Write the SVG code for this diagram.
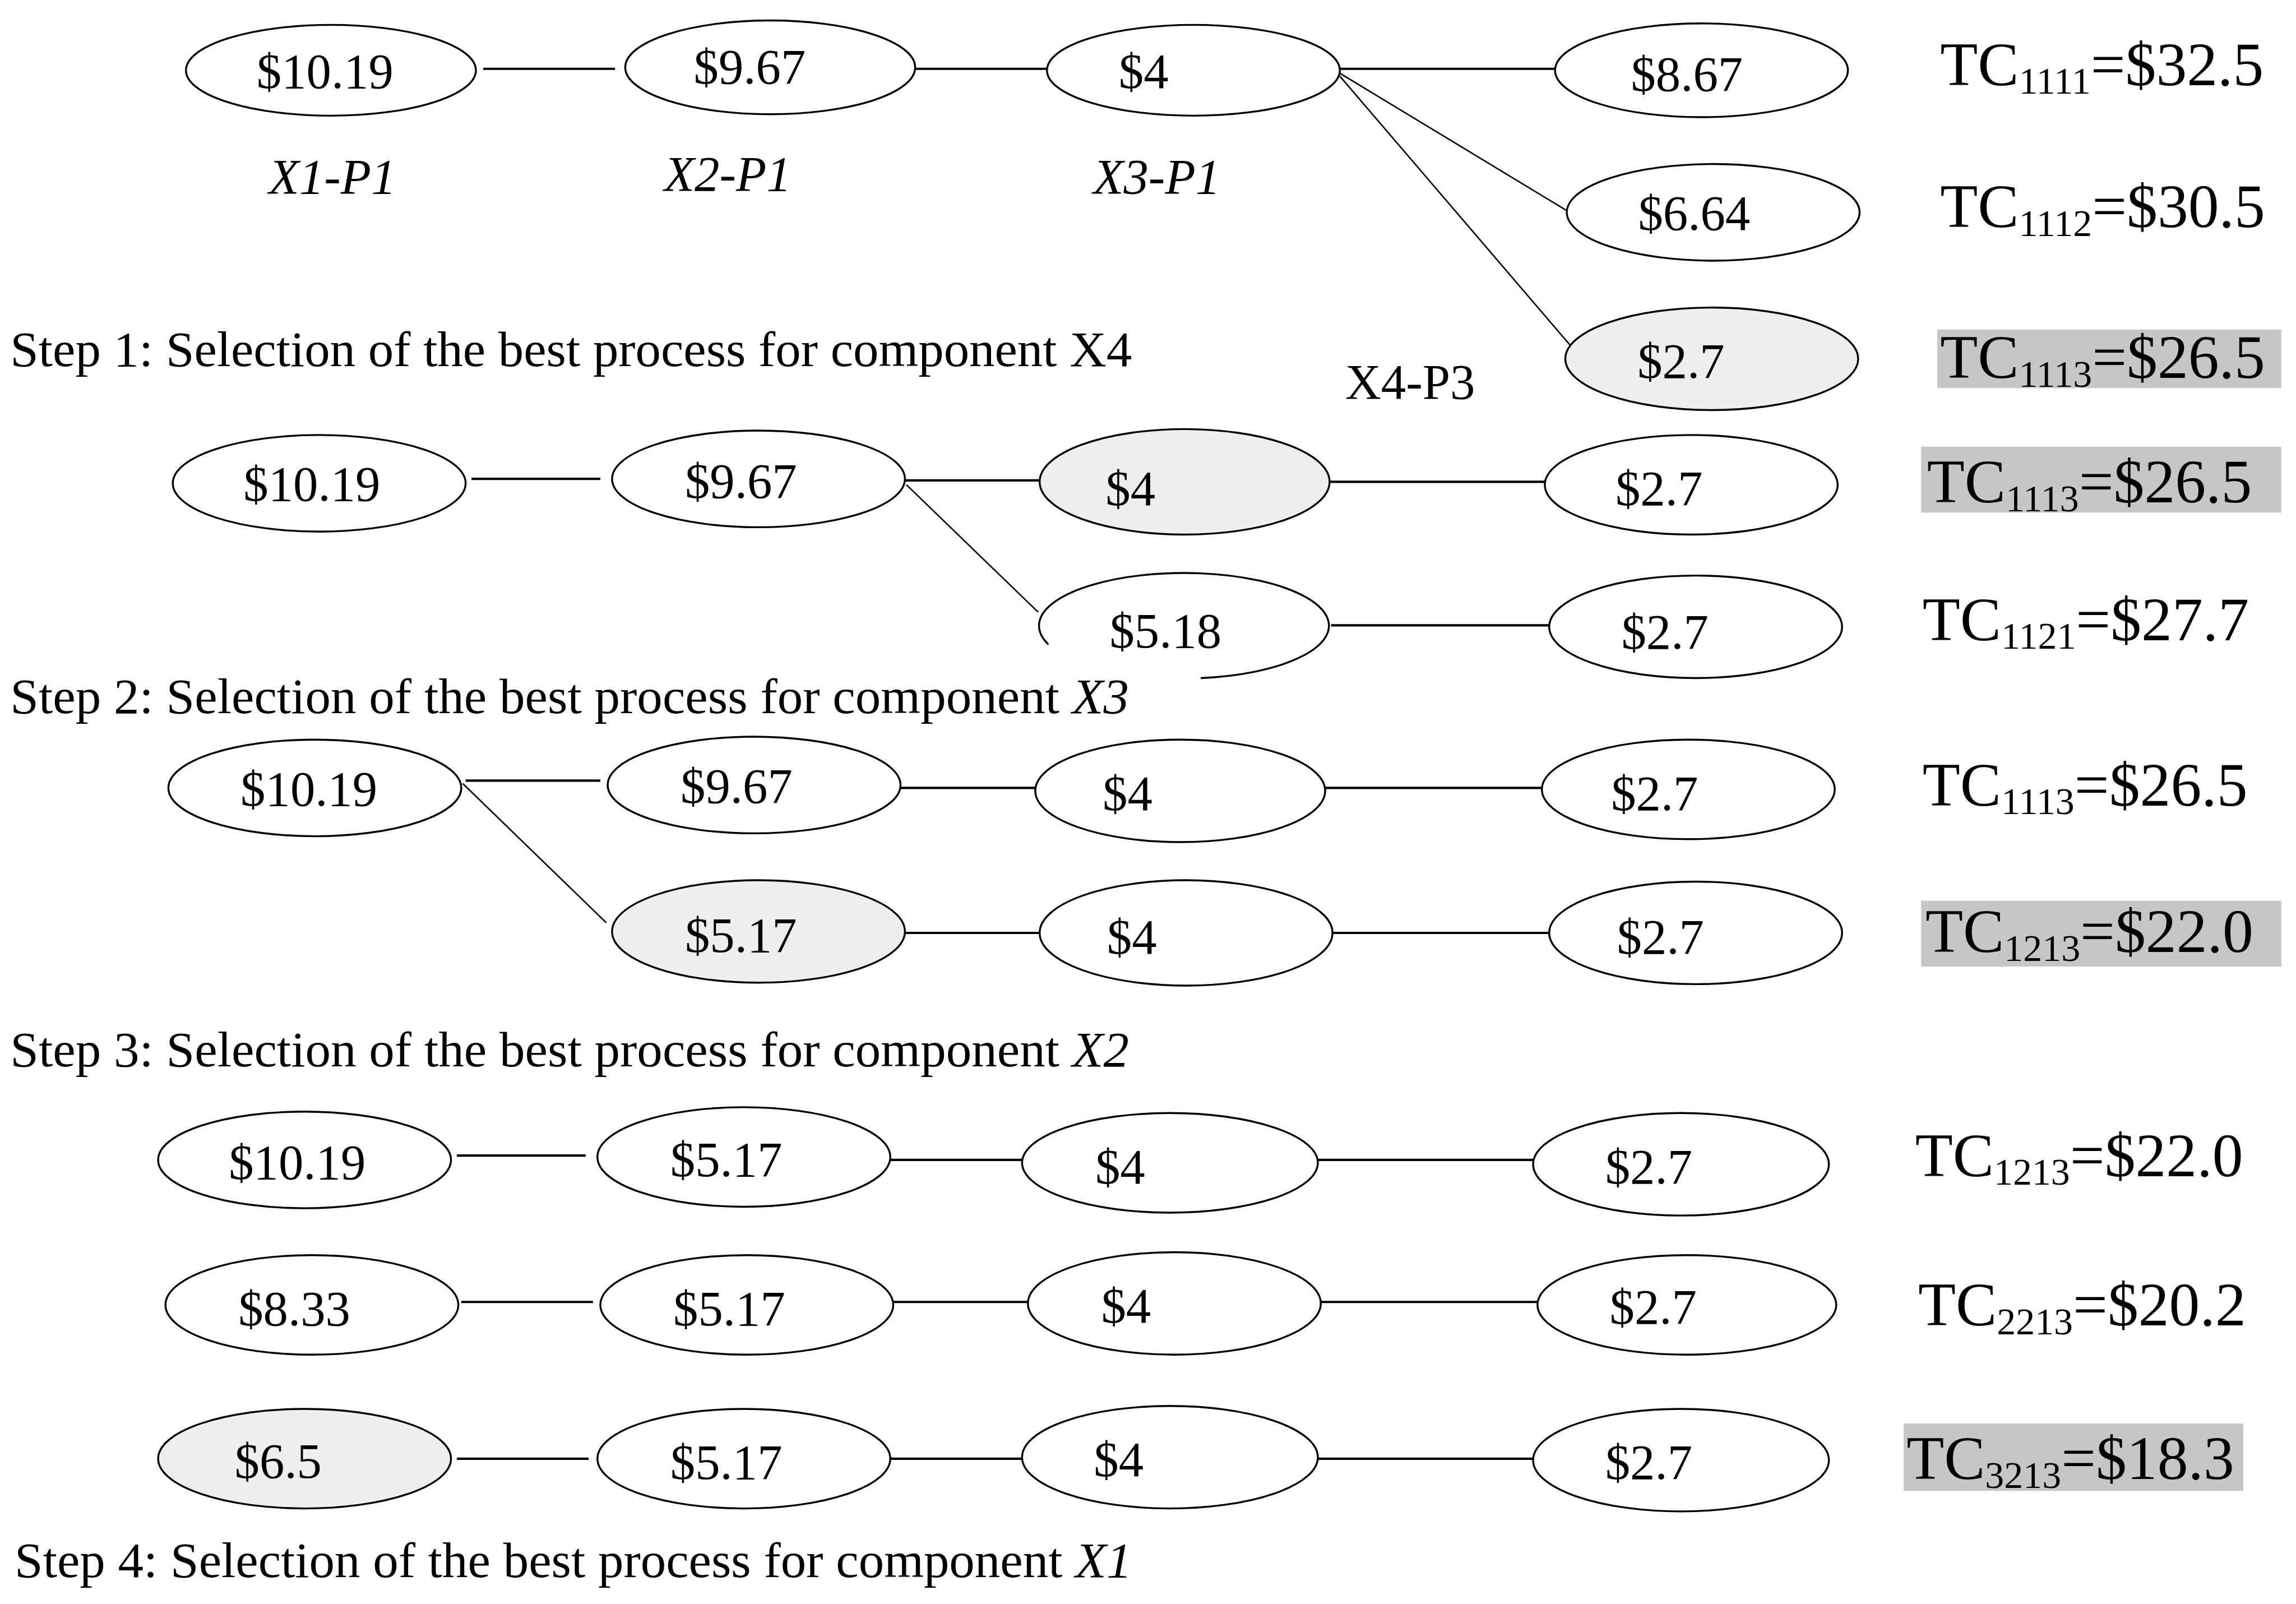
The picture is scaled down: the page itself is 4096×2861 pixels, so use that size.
<svg xmlns="http://www.w3.org/2000/svg" width="4096" height="2861" viewBox="0 0 4096 2861">
<style>
.n{fill:#fff;stroke:#000;stroke-width:1.3}
.g{fill:#eeeeee;stroke:#000;stroke-width:1.3}
.c{stroke:#000;stroke-width:1.6;fill:none}
.d{stroke:#000;stroke-width:1;fill:none}
.t{font-family:"Liberation Serif","Times New Roman",serif;font-size:34px;fill:#000}
.m{text-anchor:middle}
.i{font-style:italic}
.tc{font-family:"Liberation Serif","Times New Roman",serif;font-size:42px;fill:#000}
.s{font-size:26px}
.hl{fill:#c6c6c6}
</style>
<rect width="4096" height="2861" fill="#fff"/>
<g transform="scale(2.61224)">
<g id="connectors">
<line class="c" x1="330" y1="47" x2="420" y2="47"/>
<line class="c" x1="625" y1="47" x2="715" y2="47"/>
<line class="c" x1="915" y1="47" x2="1062" y2="47"/>
<line class="d" x1="915" y1="50" x2="1072" y2="145"/>
<line class="d" x1="915" y1="52" x2="1076" y2="240"/>
<line class="c" x1="322" y1="327" x2="410" y2="327"/>
<line class="c" x1="618" y1="328" x2="710" y2="328"/>
<line class="c" x1="908" y1="329" x2="1055" y2="329"/>
<line class="d" x1="619" y1="331" x2="709" y2="418"/>
<line class="c" x1="909" y1="427" x2="1058" y2="427"/>
<line class="c" x1="318" y1="533" x2="410" y2="533"/>
<line class="c" x1="615" y1="538" x2="707" y2="538"/>
<line class="c" x1="905" y1="538" x2="1053" y2="538"/>
<line class="d" x1="316" y1="535" x2="414" y2="630"/>
<line class="c" x1="618" y1="637" x2="710" y2="637"/>
<line class="c" x1="910" y1="637" x2="1058" y2="637"/>
<line class="c" x1="312" y1="789" x2="400" y2="789"/>
<line class="c" x1="608" y1="792" x2="698" y2="792"/>
<line class="c" x1="900" y1="792" x2="1047" y2="792"/>
<line class="c" x1="315" y1="889" x2="405" y2="889"/>
<line class="c" x1="610" y1="889" x2="702" y2="889"/>
<line class="c" x1="902" y1="889" x2="1050" y2="889"/>
<line class="c" x1="312" y1="996" x2="402" y2="996"/>
<line class="c" x1="608" y1="996" x2="698" y2="996"/>
<line class="c" x1="900" y1="996" x2="1047" y2="996"/>
</g>
<!-- Row 1 -->
<g id="r1n1"><ellipse class="n" cx="226" cy="48" rx="99" ry="31"/><text class="t m" x="222" y="60">$10.19</text></g>
<g id="r1n2"><ellipse class="n" cx="526" cy="46" rx="99" ry="32"/><text class="t m" x="512" y="57">$9.67</text></g>
<g id="r1n3"><ellipse class="n" cx="815" cy="48" rx="100" ry="31"/><text class="t m" x="781" y="60">$4</text></g>
<g id="r1n4"><ellipse class="n" cx="1162" cy="48" rx="100" ry="32"/><text class="t m" x="1152" y="62">$8.67</text></g>
<g id="r1n5"><ellipse class="n" cx="1170" cy="145" rx="100" ry="33"/><text class="t m" x="1157" y="157">$6.64</text></g>
<g id="r1n6"><ellipse class="g" cx="1169" cy="245" rx="100" ry="35"/><text class="t m" x="1148" y="258">$2.7</text></g>
<g id="lab1"><text class="t m i" x="227" y="132">X1-P1</text></g>
<g id="lab2"><text class="t m i" x="497" y="130">X2-P1</text></g>
<g id="lab3"><text class="t m i" x="790" y="132">X3-P1</text></g>
<g id="lab4"><text class="t m" x="963" y="272">X4-P3</text></g>
<g id="tc1"><text class="tc" x="1325" y="58">TC<tspan class="s" dy="6">1111</tspan><tspan dy="-6">=$32.5</tspan></text></g>
<g id="tc2"><text class="tc" x="1325" y="155">TC<tspan class="s" dy="6">1112</tspan><tspan dy="-6">=$30.5</tspan></text></g>
<g id="tc3"><rect class="hl" x="1323" y="225" width="235" height="40"/><text class="tc" x="1325" y="258">TC<tspan class="s" dy="6">1113</tspan><tspan dy="-6">=$26.5</tspan></text></g>
<g id="step1"><text class="t" x="7" y="250" textLength="766" lengthAdjust="spacingAndGlyphs">Step 1: Selection of the best process for component X4</text></g>
<!-- Row 2 -->
<g id="r2n1"><ellipse class="n" cx="218" cy="330" rx="100" ry="33"/><text class="t m" x="213" y="342">$10.19</text></g>
<g id="r2n2"><ellipse class="n" cx="518" cy="327" rx="100" ry="33"/><text class="t m" x="506" y="340">$9.67</text></g>
<g id="r2n3"><ellipse class="g" cx="809" cy="329" rx="99" ry="36"/><text class="t m" x="772" y="345">$4</text></g>
<g id="r2n4"><ellipse class="n" cx="1155" cy="331" rx="100" ry="34"/><text class="t m" x="1133" y="345">$2.7</text></g>
<g id="r2n5"><path class="n" d="M 716 440 A 99 36 0 1 1 820 463" fill="none"/><text class="t m" x="796" y="442">$5.18</text></g>
<g id="r2n6"><ellipse class="n" cx="1158" cy="428" rx="100" ry="35"/><text class="t m" x="1137" y="443">$2.7</text></g>
<g id="tc4"><rect class="hl" x="1312" y="305" width="246" height="45"/><text class="tc" x="1316" y="343">TC<tspan class="s" dy="6">1113</tspan><tspan dy="-6">=$26.5</tspan></text></g>
<g id="tc5"><text class="tc" x="1313" y="437">TC<tspan class="s" dy="6">1121</tspan><tspan dy="-6">=$27.7</tspan></text></g>
<g id="step2"><text class="t" x="7" y="487" textLength="764" lengthAdjust="spacingAndGlyphs">Step 2: Selection of the best process for component <tspan class="i">X3</tspan></text></g>
<!-- Row 3 -->
<g id="r3n1"><ellipse class="n" cx="215" cy="538" rx="100" ry="33"/><text class="t m" x="211" y="550">$10.19</text></g>
<g id="r3n2"><ellipse class="n" cx="515" cy="536" rx="100" ry="33"/><text class="t m" x="503" y="548">$9.67</text></g>
<g id="r3n3"><ellipse class="n" cx="806" cy="540" rx="99" ry="35"/><text class="t m" x="770" y="553">$4</text></g>
<g id="r3n4"><ellipse class="n" cx="1153" cy="539" rx="100" ry="34"/><text class="t m" x="1130" y="553">$2.7</text></g>
<g id="r3n5"><ellipse class="g" cx="518" cy="636" rx="100" ry="35"/><text class="t m" x="506" y="650">$5.17</text></g>
<g id="r3n6"><ellipse class="n" cx="810" cy="637" rx="100" ry="36"/><text class="t m" x="773" y="651">$4</text></g>
<g id="r3n7"><ellipse class="n" cx="1158" cy="637" rx="100" ry="35"/><text class="t m" x="1134" y="651">$2.7</text></g>
<g id="tc6"><text class="tc" x="1313" y="550">TC<tspan class="s" dy="6">1113</tspan><tspan dy="-6">=$26.5</tspan></text></g>
<g id="tc7"><rect class="hl" x="1312" y="615" width="246" height="45"/><text class="tc" x="1315" y="650">TC<tspan class="s" dy="6">1213</tspan><tspan dy="-6">=$22.0</tspan></text></g>
<g id="step3"><text class="t" x="7" y="728" textLength="764" lengthAdjust="spacingAndGlyphs">Step 3: Selection of the best process for component <tspan class="i">X2</tspan></text></g>
<!-- Row 4 -->
<g id="r4n1"><ellipse class="n" cx="208" cy="792" rx="100" ry="33"/><text class="t m" x="203" y="805">$10.19</text></g>
<g id="r4n2"><ellipse class="n" cx="508" cy="790" rx="100" ry="34"/><text class="t m" x="496" y="803">$5.17</text></g>
<g id="r4n3"><ellipse class="n" cx="799" cy="794" rx="101" ry="34"/><text class="t m" x="765" y="808">$4</text></g>
<g id="r4n4"><ellipse class="n" cx="1148" cy="795" rx="101" ry="35"/><text class="t m" x="1126" y="808">$2.7</text></g>
<g id="tc8"><text class="tc" x="1308" y="803">TC<tspan class="s" dy="6">1213</tspan><tspan dy="-6">=$22.0</tspan></text></g>
<g id="r5n1"><ellipse class="n" cx="213" cy="891" rx="100" ry="34"/><text class="t m" x="201" y="905">$8.33</text></g>
<g id="r5n2"><ellipse class="n" cx="510" cy="891" rx="100" ry="34"/><text class="t m" x="498" y="905">$5.17</text></g>
<g id="r5n3"><ellipse class="n" cx="802" cy="890" rx="100" ry="35"/><text class="t m" x="769" y="903">$4</text></g>
<g id="r5n4"><ellipse class="n" cx="1152" cy="891" rx="102" ry="34"/><text class="t m" x="1129" y="904">$2.7</text></g>
<g id="tc9"><text class="tc" x="1310" y="905">TC<tspan class="s" dy="6">2213</tspan><tspan dy="-6">=$20.2</tspan></text></g>
<g id="r6n1"><ellipse class="g" cx="208" cy="996" rx="100" ry="34"/><text class="t m" x="190" y="1009">$6.5</text></g>
<g id="r6n2"><ellipse class="n" cx="508" cy="996" rx="100" ry="34"/><text class="t m" x="496" y="1010">$5.17</text></g>
<g id="r6n3"><ellipse class="n" cx="799" cy="995" rx="101" ry="35"/><text class="t m" x="764" y="1008">$4</text></g>
<g id="r6n4"><ellipse class="n" cx="1148" cy="997" rx="101" ry="35"/><text class="t m" x="1126" y="1010">$2.7</text></g>
<g id="tc10"><rect class="hl" x="1300" y="972" width="232" height="46"/><text class="tc" x="1302" y="1010">TC<tspan class="s" dy="6">3213</tspan><tspan dy="-6">=$18.3</tspan></text></g>
<g id="step4"><text class="t" x="10" y="1077" textLength="763" lengthAdjust="spacingAndGlyphs">Step 4: Selection of the best process for component <tspan class="i">X1</tspan></text></g>
</g>
</svg>
